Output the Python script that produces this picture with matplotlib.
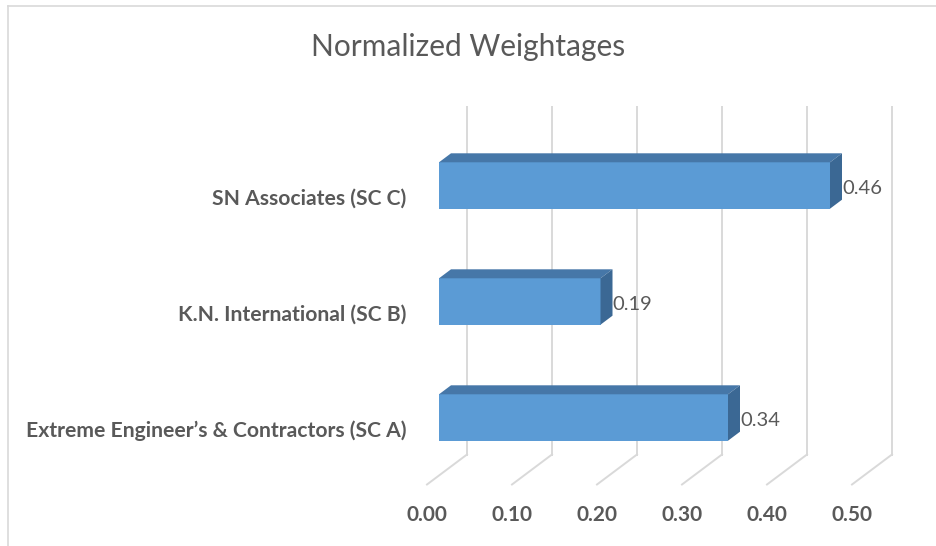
import matplotlib.pyplot as plt
from matplotlib.patches import Polygon
from matplotlib.lines import Line2D

categories = ["Extreme Engineer\u2019s & Contractors (SC A)",
              "K.N. International (SC B)",
              "SN Associates (SC C)"]
weights = [0.34, 0.19, 0.46]
ticks = [0.0, 0.1, 0.2, 0.3, 0.4, 0.5]

FRONT = '#5b9bd5'
TOP = '#4677a8'
SIDE = '#3b6894'
GRID = '#d9d9d9'
TEXT = '#595959'

plt.rcParams['font.family'] = ['Lato', 'DejaVu Sans']

fig = plt.figure(figsize=(9.36, 5.46), dpi=100)
ax = fig.add_axes([0, 0, 1, 1])
# 850 px per unit of weight, 116 px per category slot
ax.set_xlim(-427 / 850, (936 - 427) / 850)
ax.set_ylim((426.5 - 546) / 116, 426.5 / 116)
ax.axis('off')

# oblique depth of the box (front plane -> back wall)
DX = 40 / 850
DY = 30 / 116
BAR_H = 0.2
D0, D1 = 0.3, 0.6   # bar occupies this slice of the depth

n = len(categories)
ylo, yhi = -0.5, n - 0.5

# back wall gridlines and floor diagonals
for t in ticks:
    ax.add_line(Line2D([t + DX, t + DX], [ylo + DY, yhi + DY], color=GRID, lw=1.4, zorder=1))
    ax.add_line(Line2D([t, t + DX], [ylo, ylo + DY], color=GRID, lw=1.4, zorder=1))
    ax.text(t, -0.763, f'{t:.2f}', ha='center', va='center', fontsize=15,
            fontweight='bold', color=TEXT)

for i, (name, v) in enumerate(zip(categories, weights)):
    fx0, fy0 = D0 * DX, i + D0 * DY
    bx0, by0 = D1 * DX, i + D1 * DY
    # front face
    ax.add_patch(Polygon([(fx0, fy0 - BAR_H), (fx0 + v, fy0 - BAR_H),
                          (fx0 + v, fy0 + BAR_H), (fx0, fy0 + BAR_H)],
                         closed=True, fc=FRONT, ec='none', zorder=3))
    # top face
    ax.add_patch(Polygon([(fx0, fy0 + BAR_H), (fx0 + v, fy0 + BAR_H),
                          (bx0 + v, by0 + BAR_H), (bx0, by0 + BAR_H)],
                         closed=True, fc=TOP, ec='none', zorder=3))
    # end face
    ax.add_patch(Polygon([(fx0 + v, fy0 - BAR_H), (bx0 + v, by0 - BAR_H),
                          (bx0 + v, by0 + BAR_H), (fx0 + v, fy0 + BAR_H)],
                         closed=True, fc=SIDE, ec='none', zorder=3))
    ax.text(bx0 + v, i + 0.056, f'{v:.2f}', ha='left', va='center', fontsize=14.5,
            color=TEXT, zorder=4)
    ax.text(-21 / 850, i - 0.04, name, ha='right', va='center', fontsize=15.2,
            fontweight='bold', color=TEXT)

fig.text(468 / 936, 1 - 47 / 546, 'Normalized Weightages', ha='center', va='center',
         fontsize=21.5, color=TEXT)

# chart area border
fig.add_artist(Line2D([8 / 936, 8 / 936], [0, 1 - 6 / 546], transform=fig.transFigure,
                      color=GRID, lw=1.2))
fig.add_artist(Line2D([8 / 936, 1], [1 - 6 / 546, 1 - 6 / 546], transform=fig.transFigure,
                      color=GRID, lw=1.2))

fig.savefig('out.png', dpi=100, facecolor='white')
